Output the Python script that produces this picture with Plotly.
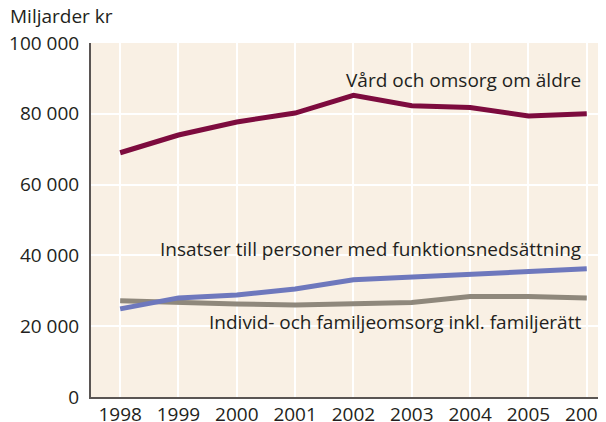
import plotly.graph_objects as go

years = [1998, 1999, 2000, 2001, 2002, 2003, 2004, 2005, 2006]
vard_aldre = [69000, 74000, 77700, 80200, 85200, 82300, 81800, 79400, 80000]
funktionsnedsattning = [24900, 28000, 28800, 30500, 33100, 33900, 34800, 35300, 36200]
individ_familj = [27200, 26600, 26300, 26000, 26500, 26700, 28400, 28400, 28000]
y_ticks = [0, 20000, 40000, 60000, 80000, 100000]
y_tick_labels = ["0", "20 000", "40 000", "60 000", "80 000", "100 000"]

font_family = "Open Sans"
text_color = "#231f20"

fig = go.Figure()
fig.add_trace(go.Scatter(x=years, y=individ_familj, mode="lines",
                         line=dict(color="#8f887c", width=5), showlegend=False))
fig.add_trace(go.Scatter(x=years, y=funktionsnedsattning, mode="lines",
                         line=dict(color="#6e78bd", width=5), showlegend=False))
fig.add_trace(go.Scatter(x=years, y=vard_aldre, mode="lines",
                         line=dict(color="#7d0b3e", width=5), showlegend=False))

# page body has an 8px default margin, so the figure is sized to fill the rest
fig.update_layout(
    width=598, height=414,
    margin=dict(l=83, r=0, t=35, b=25),
    paper_bgcolor="white",
    plot_bgcolor="#f9f0e4",
    font=dict(family=font_family, size=19, color=text_color),
    xaxis=dict(range=[1997.5, 2006.33], tickvals=years, ticktext=[str(y) for y in years],
               showgrid=True, gridcolor="white", gridwidth=1.5,
               showline=True, linecolor="#5a5553", linewidth=2,
               ticks="", zeroline=False, tickfont=dict(size=19),
               automargin=False, ticklabeloverflow="allow", ticklabelstandoff=-1),
    yaxis=dict(range=[0, 100000], tickvals=y_ticks, ticktext=y_tick_labels,
               showgrid=True, gridcolor="white", gridwidth=1.5,
               showline=True, linecolor="#5a5553", linewidth=2,
               ticks="", zeroline=False, ticklabelstandoff=6, tickfont=dict(size=19),
               automargin=False),
    annotations=[
        dict(text="Miljarder kr", xref="paper", yref="paper", x=-0.161, y=1.035,
             xanchor="left", yanchor="bottom", showarrow=False, font=dict(size=19)),
        dict(text="Vård och omsorg om äldre", xref="paper", yref="paper", x=0.955, y=0.895,
             xanchor="right", yanchor="middle", showarrow=False),
        dict(text="Insatser till personer med funktionsnedsättning", xref="paper", yref="paper",
             x=0.955, y=0.418, xanchor="right", yanchor="middle", showarrow=False),
        dict(text="Individ- och familjeomsorg inkl. familjerätt", xref="paper", yref="paper",
             x=0.955, y=0.212, xanchor="right", yanchor="middle", showarrow=False),
    ],
)

fig.write_html("out.html")
